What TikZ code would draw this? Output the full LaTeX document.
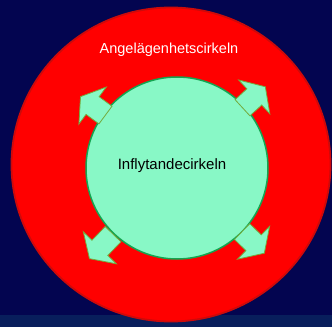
\documentclass[tikz,border=0pt]{standalone}
\usepackage{fontspec}
\setmainfont{Liberation Sans}
\usetikzlibrary{shapes.geometric}
\definecolor{navybg}{RGB}{3,5,80}
\definecolor{stripbg}{RGB}{8,30,92}
\definecolor{ringred}{RGB}{255,0,0}
\definecolor{ringedge}{RGB}{205,10,10}
\definecolor{mint}{RGB}{136,248,198}
\definecolor{mintedge}{RGB}{20,165,80}
\definecolor{arrowedge}{RGB}{115,170,60}
\begin{document}
\begin{tikzpicture}[x=1pt, y=1pt,
    outerring/.style={ellipse, fill=ringred, draw=ringedge, line width=1.8pt,
      minimum width=319pt, minimum height=314pt, inner sep=0pt},
    innerring/.style={circle, fill=mint, draw=mintedge, line width=1.5pt,
      minimum size=182pt, inner sep=0pt},
    growarrow/.style={fill=mint, draw=arrowedge, line width=0.8pt, line join=miter}]
  \useasboundingbox (0,0) rectangle (332,327);
  \fill[navybg] (0,0) rectangle (332,327);
  \fill[stripbg] (0,0) rectangle (332,12);
  \node[outerring] (outer) at (171,162.5) {};
  \node[innerring] (inner) at (177,159) {};
  \foreach \ang/\rr/\tip in {143.5/89/120, 42.6/89/120, 226/92/126, -44.3/91/122}
    \draw[growarrow, shift={(inner.center)}, rotate=\ang]
      (\rr,-11) -- ({\tip-15},-11) -- ({\tip-15},-23) -- (\tip,0)
      -- ({\tip-15},23) -- ({\tip-15},11) -- (\rr,11) -- cycle;
  \node[text=white, font=\fontsize{14.5}{16}\selectfont, anchor=base] (outerlabel) at (169,273) {Angelägenhetscirkeln};
  \node[text=black, font=\fontsize{15}{17}\selectfont, anchor=base] (innerlabel) at (172,157.7) {Inflytandecirkeln};
\end{tikzpicture}
\end{document}
